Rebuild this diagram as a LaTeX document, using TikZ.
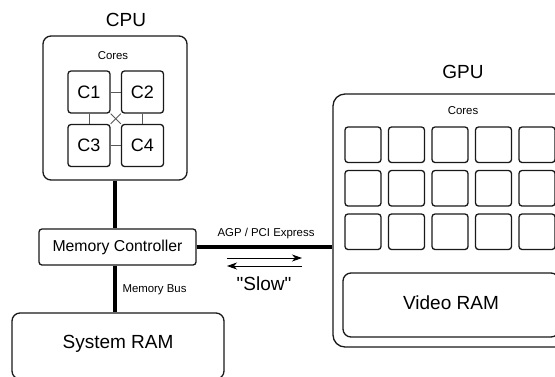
\documentclass[tikz,border=0pt]{standalone}
\usepackage{fontspec}
\setmainfont{Liberation Sans}
% same face without the TeX quote mapping, for straight quotes
\newfontfamily\rawquotes[Ligatures=ResetAll]{Liberation Sans}
\usetikzlibrary{arrows.meta}
\begin{document}
\begin{tikzpicture}[x=1pt,y=-1pt,
  box/.style={draw=black!90, line width=1.3pt, inner sep=0pt},
  chip/.style={box, rounded corners=8pt},
  core/.style={box, rounded corners=3pt, minimum width=42pt, minimum height=42pt, font=\fontsize{18}{20}\selectfont},
  gcore/.style={box, rounded corners=3pt, minimum width=36pt, minimum height=35.5pt},
  bus/.style={line width=4pt, black},
  link/.style={line width=1pt, black!65},
  big/.style={font=\fontsize{19}{22}\selectfont},
  mid/.style={font=\fontsize{15.8}{18}\selectfont},
  small/.style={font=\fontsize{11.4}{13}\selectfont},
  flow/.style={line width=0.9pt, -{Stealth[length=10pt,width=7pt,inset=3pt]}}]
\useasboundingbox (0,0) rectangle (555,376);
\fill[white] (0,0) rectangle (555,376);
\clip (0,0) rectangle (555,376);

% CPU with its four cores
\node[big] (cpulbl) at (126,20) {CPU};
\node[chip, minimum width=144pt, minimum height=144pt] (cpu) at (115,108) {};
\node[small] (cpucores) at (113,56) {Cores};
\node[core] (c1) at (89,92) {C1};
\node[core] (c2) at (142.5,92) {C2};
\node[core] (c3) at (89,145.5) {C3};
\node[core] (c4) at (142.5,145.5) {C4};
\draw[link] (c1.east) -- (c2.west);
\draw[link] (c3.east) -- (c4.west);
\draw[link] (c1.south) -- (c3.north);
\draw[link] (c2.south) -- (c4.north);
\draw[link] (c1.south east) -- (c4.north west);
\draw[link] (c2.south west) -- (c3.north east);

% memory controller and system memory
\node[box, rounded corners=3pt, minimum width=157pt, minimum height=36pt, mid] (mc) at (117.5,247) {Memory Controller};
\node[chip, minimum width=212pt, minimum height=66pt] (sysram) at (118,346) {};
\node[big] (sysramlbl) at (118,344) {System RAM};
\draw[bus] (cpu.south) -- (cpu.south |- mc.north);
\draw[bus] (cpu.south |- mc.south) -- (cpu.south |- sysram.north);
\node[small, anchor=west] (buslbl) at (119,290) {Memory Bus};

% GPU with its core grid and video memory
\node[big] (gpulbl) at (463,72) {GPU};
\node[box, rounded corners=12pt, minimum width=260pt, minimum height=253pt] (gpu) at (463,220.5) {};
\node[small] (gpucores) at (463,111) {Cores};
\foreach \c/\x in {1/363,2/406.5,3/450,4/493.5,5/537}
  \foreach \r/\y in {1/144.75,2/188.25,3/231.75}
    \node[gcore] (g\r\c) at (\x,\y) {};
\node[chip, minimum width=216pt, minimum height=64pt] (vram) at (451,305) {};
\node[big] (vramlbl) at (451,303) {Video RAM};

% expansion bus between the two
\draw[bus] (mc.east) -- (gpu.west |- mc.east);
\node[small] (agplbl) at (266,234) {AGP / PCI Express};
\coordinate (upA) at (227,258);
\coordinate (upB) at (302,258);
\coordinate (dnA) at (302,266);
\coordinate (dnB) at (227,266);
\draw[flow] (upA) -- (upB);
\draw[flow] (dnA) -- (dnB);
\node[big] (slowlbl) at (264,284) {\rawquotes "Slow"};
\end{tikzpicture}
\end{document}
